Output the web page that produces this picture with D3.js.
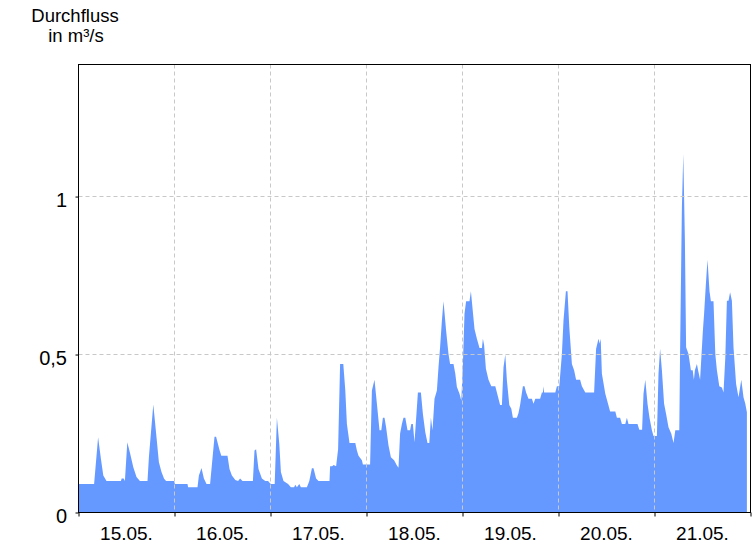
<!DOCTYPE html>
<html><head><meta charset="utf-8">
<script src="https://cdn.jsdelivr.net/npm/d3@7"></script>
<style>
html,body{margin:0;padding:0;background:#fff;}
svg{display:block;font-family:"Liberation Sans",Arial,sans-serif;}
</style></head>
<body><svg id="c" width="756" height="546"></svg>
<script>
// ---- data (hours since 15.05. 00:00, discharge in m³/s) ----
const startDate = new Date(2023, 4, 15, 0, 0);
const endDate = new Date(2023, 4, 22, 0, 0);
const hours = [0,3.9,4.9,5.6,6.2,7.0,10.6,10.8,11.3,11.6,12.2,12.85,13.7,14.5,15.35,17.25,17.6,18.7,19.5,20.1,20.75,21.4,21.9,23.9,24.1,27.25,27.4,29.75,30.1,30.75,31.35,32.0,32.9,34.0,34.4,34.75,35.25,35.7,37.25,37.75,38.35,39.2,39.9,40.4,41.0,43.6,44.0,44.4,45.0,45.85,46.7,47.4,47.7,48.1,49.05,49.6,50.2,50.6,51.25,52.4,53.1,53.9,54.2,54.6,55.2,55.6,57.1,57.7,58.35,58.75,59.4,60.0,62.75,62.9,63.4,63.8,64.4,64.9,65.4,66.2,66.7,67.1,67.75,69.2,69.6,70.0,70.85,71.1,72.9,73.35,74.0,74.6,75.25,75.7,76.1,76.5,76.9,77.5,78.1,78.9,79.6,80.0,80.4,80.85,81.25,81.7,82.25,82.9,83.2,83.6,84.0,84.6,84.85,85.6,86.1,86.7,87.25,87.7,88.1,88.5,89.0,89.6,90.0,90.4,90.85,91.25,91.9,92.5,92.9,93.75,94.2,94.6,95.25,95.7,96.1,96.5,96.9,97.75,98.1,98.6,99.0,99.6,100.25,100.85,101.1,101.4,101.85,102.5,103.2,104.2,104.6,105.0,105.4,105.85,106.25,106.7,107.1,107.7,108.2,108.6,109.6,110.0,110.4,111.1,111.5,111.9,112.5,113.35,113.75,114.2,115.4,115.85,116.1,116.25,116.4,119.2,119.6,120.2,120.85,121.25,121.85,122.25,122.7,123.35,123.9,124.4,125.4,125.85,126.7,128.9,129.4,130.0,130.3,130.55,130.85,131.7,132.5,132.9,134.2,134.6,135.4,135.85,136.7,137.1,137.5,139.75,140.2,140.9,141.25,141.7,142.25,142.75,143.35,143.75,144.6,145.0,145.4,145.85,146.4,146.9,147.5,148.2,148.75,149.2,150.2,150.4,150.85,151.2,151.6,151.9,152.5,153.1,153.55,153.85,154.1,154.6,154.9,155.4,156.1,156.4,156.85,157.25,157.75,158.1,158.75,159.2,159.6,160.2,160.85,161.25,161.7,162.1,162.5,162.9,163.35,163.75,164.4,165.0,165.7,166.25,166.7,167.1];
const flow = [0.09,0.09,0.238,0.17,0.117,0.10,0.10,0.108,0.108,0.10,0.222,0.19,0.143,0.112,0.10,0.10,0.175,0.342,0.238,0.159,0.128,0.107,0.10,0.10,0.09,0.09,0.08,0.08,0.117,0.141,0.108,0.09,0.09,0.24,0.24,0.222,0.198,0.18,0.18,0.138,0.117,0.103,0.10,0.108,0.10,0.10,0.196,0.20,0.138,0.108,0.10,0.10,0.095,0.09,0.09,0.30,0.217,0.128,0.10,0.09,0.08,0.08,0.088,0.08,0.09,0.08,0.08,0.10,0.14,0.14,0.108,0.10,0.10,0.146,0.146,0.15,0.146,0.20,0.47,0.47,0.386,0.28,0.22,0.22,0.196,0.18,0.165,0.152,0.152,0.386,0.42,0.344,0.26,0.26,0.30,0.30,0.27,0.212,0.175,0.165,0.149,0.142,0.25,0.28,0.30,0.30,0.26,0.26,0.28,0.28,0.222,0.333,0.38,0.38,0.312,0.254,0.22,0.22,0.30,0.26,0.36,0.386,0.46,0.523,0.608,0.669,0.576,0.502,0.47,0.47,0.439,0.397,0.376,0.354,0.47,0.629,0.669,0.669,0.70,0.634,0.581,0.55,0.521,0.521,0.55,0.53,0.455,0.42,0.40,0.40,0.38,0.36,0.34,0.34,0.46,0.50,0.418,0.34,0.328,0.30,0.30,0.315,0.34,0.40,0.40,0.38,0.36,0.36,0.344,0.36,0.36,0.38,0.38,0.40,0.38,0.38,0.40,0.40,0.502,0.608,0.70,0.70,0.586,0.47,0.45,0.42,0.42,0.40,0.38,0.38,0.518,0.55,0.535,0.55,0.439,0.376,0.339,0.32,0.32,0.30,0.30,0.28,0.28,0.30,0.28,0.28,0.262,0.262,0.376,0.42,0.344,0.30,0.26,0.242,0.242,0.439,0.518,0.45,0.344,0.312,0.27,0.249,0.22,0.26,0.26,0.513,0.966,1.135,0.861,0.523,0.502,0.45,0.45,0.42,0.45,0.47,0.45,0.42,0.576,0.629,0.724,0.80,0.70,0.669,0.669,0.502,0.45,0.40,0.396,0.38,0.49,0.67,0.67,0.697,0.67,0.523,0.407,0.365,0.42,0.365,0.344,0.317];
const yTicks = [0, 0.5, 1];
const yTickLabels = ["0", "0,5", "1"];
const dayLabels = ["15.05.", "16.05.", "17.05.", "18.05.", "19.05.", "20.05.", "21.05."];
const titleLines = ["Durchfluss", "in m³/s"];
const yMax = 1.418;

// ---- layout ----
const L = 78.5, R = 750.5, T = 64.5, B = 512.5;
const svg = d3.select("#c");
const x = d3.scaleTime().domain([startDate, endDate]).range([L, R]);
const y = d3.scaleLinear().domain([0, yMax]).range([B, T]);
const pts = hours.map((h, i) => ({t: new Date(startDate.getTime() + h * 3600e3), v: flow[i]}));

// area
svg.append("path").datum(pts)
  .attr("fill", "#6699ff")
  .attr("d", d3.area().x(d => x(d.t)).y0(y(0)).y1(d => y(d.v)));

// gridlines (on top of area)
const midnights = d3.timeDay.range(startDate, d3.timeDay.offset(endDate, 1));
const grid = svg.append("g").attr("stroke", "#c8c8c8").attr("stroke-dasharray", "4,3").attr("stroke-width", 1);
midnights.slice(1, -1).forEach(d => {
  const xx = Math.round(x(d) - 0.5) + 0.5;
  grid.append("line").attr("x1", xx).attr("x2", xx).attr("y1", T).attr("y2", B);
});
yTicks.filter(v => v > 0).forEach(v => {
  const yy = Math.round(y(v) - 0.5) + 0.5;
  grid.append("line").attr("x1", L).attr("x2", R).attr("y1", yy).attr("y2", yy);
});

// frame
svg.append("rect").attr("x", L).attr("y", T).attr("width", R - L).attr("height", B - T)
  .attr("fill", "none").attr("stroke", "#000").attr("stroke-width", 1);

// x axis ticks & labels
const xAxis = d3.axisBottom(x).tickValues(midnights).tickSize(4).tickFormat("");
const gx = svg.append("g").attr("transform", `translate(0,${B})`).call(xAxis);
gx.select(".domain").remove();
gx.selectAll(".tick line").attr("stroke", "#000");
const noons = d3.timeDay.range(startDate, endDate).map(d => d3.timeHour.offset(d, 12));
svg.append("g").selectAll("text").data(noons).join("text")
  .attr("x", d => x(d)).attr("y", 540).attr("text-anchor", "middle")
  .attr("font-size", "19px").attr("fill", "#000")
  .text((d, i) => dayLabels[i]);

// y axis ticks & labels
const yAxis = d3.axisLeft(y).tickValues(yTicks).tickSize(3).tickFormat("");
const gy = svg.append("g").attr("transform", `translate(${L},0)`).call(yAxis);
gy.select(".domain").remove();
gy.selectAll(".tick line").attr("stroke", "#000");
svg.append("g").selectAll("text").data(yTicks).join("text")
  .attr("x", 67).attr("y", d => y(d) + 10.5).attr("text-anchor", "end")
  .attr("font-size", "20px").attr("fill", "#000")
  .text((d, i) => yTickLabels[i]);

// title
svg.append("text").attr("x", 75).attr("y", 21.5).attr("text-anchor", "middle")
  .attr("font-size", "18.5px").attr("fill", "#000").text(titleLines[0]);
svg.append("text").attr("x", 76).attr("y", 42).attr("text-anchor", "middle")
  .attr("font-size", "18.5px").attr("fill", "#000").text(titleLines[1]);
</script></body></html>
